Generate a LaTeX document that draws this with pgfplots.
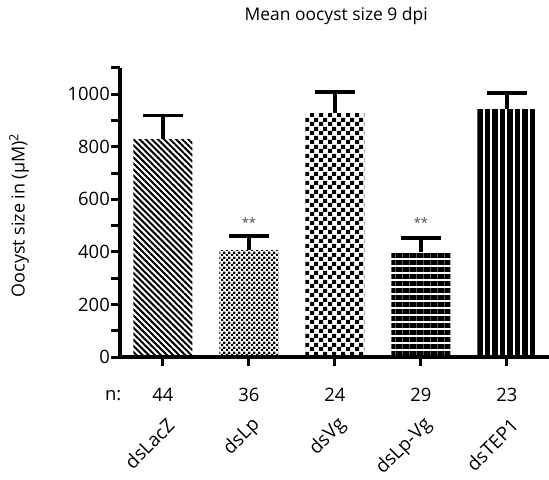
\documentclass[border=0pt]{standalone}
\usepackage{fontspec}
\setmainfont{Open Sans}
\usepackage{pgfplots}
\pgfplotsset{compat=1.18}
\usetikzlibrary{patterns,patterns.meta}

\pgfdeclarepatternformonly{checkfine}{\pgfqpoint{0bp}{0bp}}{\pgfqpoint{4.6bp}{4.6bp}}{\pgfqpoint{4.6bp}{4.6bp}}{%
 \pgfpathrectangle{\pgfqpoint{0bp}{0bp}}{\pgfqpoint{2.3bp}{2.3bp}}%
 \pgfpathrectangle{\pgfqpoint{2.3bp}{2.3bp}}{\pgfqpoint{2.3bp}{2.3bp}}%
 \pgfusepath{fill}}
\pgfdeclarepatternformonly{checkcoarse}{\pgfqpoint{0bp}{0bp}}{\pgfqpoint{8.6bp}{8.6bp}}{\pgfqpoint{8.6bp}{8.6bp}}{%
 \pgfpathrectangle{\pgfqpoint{0bp}{0bp}}{\pgfqpoint{4.3bp}{4.3bp}}%
 \pgfpathrectangle{\pgfqpoint{4.3bp}{4.3bp}}{\pgfqpoint{4.3bp}{4.3bp}}%
 \pgfusepath{fill}}

\pgfplotsset{
  errstyle/.style={error bars/.cd, y dir=plus, y explicit,
    error bar style={line width=3.5bp, black, solid},
    error mark options={rotate=90, line width=3.5bp, mark size=20bp, black}},
}

\begin{document}
\begin{tikzpicture}
\useasboundingbox (-120bp,-123bp) rectangle (429bp,357bp);
\begin{axis}[
  at={(0,0)}, anchor=south west,
  scale only axis, width=429bp, height=289bp,
  xmin=-0.5, xmax=4.49, ymin=0, ymax=1100,
  axis x line*=bottom, axis y line*=left,
  axis line style={line width=4bp, black, -},
  ytick={0,200,...,1000}, minor ytick={100,300,...,1100},
  xtick={0,1,2,3,4}, xticklabels={dsLacZ,dsLp,dsVg,dsLp-Vg,dsTEP1},
  tick align=outside, major tick length=9bp, minor tick length=9bp,
  every tick/.style={line width=3bp, black},
  /pgf/number format/assume math mode=true,
  /pgf/number format/1000 sep={},
  yticklabel style={font=\fontsize{18.5}{18.5}\selectfont, inner sep=1bp},
  xticklabel style={font=\fontsize{19}{19}\selectfont, xshift=8bp, yshift=2bp, rotate=45, anchor=east, inner sep=0bp},
  xticklabel shift=58bp,
  ylabel={Oocyst size in (μM)\textsuperscript{2}},
  every axis y label/.style={at={(axis description cs:-0.235,0.49)}, rotate=90, anchor=center, font=\fontsize{18}{18}\selectfont},
  title={Mean oocyst size 9 dpi},
  every axis title/.style={at={(axis description cs:0.504,1.18)}, anchor=center, font=\fontsize{17.5}{17.5}\selectfont},
  ybar, bar width=59bp, bar shift=0pt,
  clip=false,
]
\addplot[draw=none, pattern={Lines[angle=-45, distance=4.3bp, line width=2bp]}, errstyle]
  coordinates {(0,829) +- (0,91)};
\addplot[draw=none, pattern=checkfine, errstyle]
  coordinates {(1,407) +- (0,53)};
\addplot[draw=none, pattern=checkcoarse, errstyle]
  coordinates {(2,928) +- (0,80)};
\addplot[draw=none, pattern={Lines[angle=0, distance=7bp, line width=5bp]}, errstyle]
  coordinates {(3,399) +- (0,53)};
\addplot[draw=none, pattern={Lines[angle=90, distance=7.5bp, line width=5.5bp]}, errstyle]
  coordinates {(4,943) +- (0,61)};

\node[font=\fontsize{13}{13}\selectfont, gray!60!black] at (axis cs:1,513) {**};
\node[font=\fontsize{13}{13}\selectfont, gray!60!black] at (axis cs:3,513) {**};

\node[font=\fontsize{18.5}{18.5}\selectfont] at (axis cs:-0.58,-145) {n:};
\node[font=\fontsize{18.5}{18.5}\selectfont] at (axis cs:0,-145) {44};
\node[font=\fontsize{18.5}{18.5}\selectfont] at (axis cs:1,-145) {36};
\node[font=\fontsize{18.5}{18.5}\selectfont] at (axis cs:2,-145) {24};
\node[font=\fontsize{18.5}{18.5}\selectfont] at (axis cs:3,-145) {29};
\node[font=\fontsize{18.5}{18.5}\selectfont] at (axis cs:4,-145) {23};
\end{axis}
\end{tikzpicture}
\end{document}
